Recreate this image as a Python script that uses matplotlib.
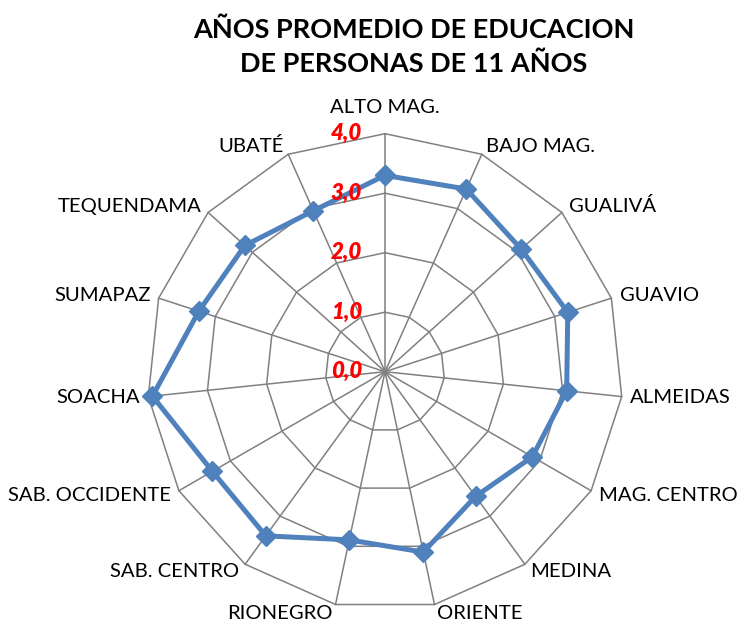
import numpy as np
import matplotlib
matplotlib.use("Agg")
import matplotlib.pyplot as plt
from matplotlib.transforms import offset_copy

# data
provincias = ["ALTO MAG.", "BAJO MAG.", "GUALIVÁ", "GUAVIO", "ALMEIDAS",
              "MAG. CENTRO", "MEDINA", "ORIENTE", "RIONEGRO", "SAB. CENTRO",
              "SAB. OCCIDENTE", "SOACHA", "SUMAPAZ", "TEQUENDAMA", "UBATÉ"]
anios = [3.30, 3.36, 3.08, 3.23, 3.07,
         2.86, 2.59, 3.10, 2.89, 3.41,
         3.35, 3.93, 3.29, 3.17, 2.96]
ticks = [0, 1, 2, 3, 4]
tick_labels = ["0,0", "1,0", "2,0", "3,0", "4,0"]
titulo = "AÑOS PROMEDIO DE EDUCACION\nDE PERSONAS DE 11 AÑOS"

plt.rcParams['font.family'] = ['Lato', 'DejaVu Sans']

W, H = 743, 624
fig = plt.figure(figsize=(W / 100, H / 100), dpi=100)
cx, cy, R = 385, 624 - 371.7, 238
ax = fig.add_axes([(cx - R) / W, (cy - R) / H, 2 * R / W, 2 * R / H], polar=True)
ax.set_theta_zero_location('N')
ax.set_theta_direction(-1)
ax.set_ylim(0, max(ticks))
ax.axis('off')

n = len(provincias)
ang = np.linspace(0, 2 * np.pi, n, endpoint=False)
ang_c = np.append(ang, ang[0])
grid_col = '#808080'

# polygon grid rings
for t in ticks[1:]:
    ax.plot(ang_c, [t] * (n + 1), color=grid_col, lw=1.1, clip_on=False, zorder=1)
# spokes
for a in ang:
    ax.plot([a, a], [0, max(ticks)], color=grid_col, lw=1.1, clip_on=False, zorder=1)

# data series
vals = np.append(anios, anios[0])
ax.plot(ang_c, vals, color='#4F81BD', lw=3.6, marker='D', ms=10,
        mec='#4F81BD', mfc='#4F81BD', clip_on=False, zorder=3)

# radial tick labels
off = offset_copy(ax.transData, fig=fig, x=-23, y=0, units='dots')
for t, lab in zip(ticks, tick_labels):
    ax.text(0, t, lab, transform=off, ha='right', va='center', color='#FF0000',
            fontsize=16, fontweight='heavy', fontstyle='italic', zorder=4)

# category labels
for a, name in zip(ang, provincias):
    s, c = np.sin(a), np.cos(a)
    if abs(s) < 1e-6:
        tr = offset_copy(ax.transData, fig=fig, x=0, y=26, units='dots')
        ha = 'center'
    else:
        tr = offset_copy(ax.transData, fig=fig, x=7 * s + 1.5 * np.sign(s),
                         y=9 * c, units='dots')
        ha = 'left' if s > 0 else 'right'
    ax.text(a, max(ticks), name, transform=tr, ha=ha, va='center',
            fontsize=14.6, color='black')

fig.text(414 / W, 1 - 17 / H, titulo, ha='center', va='top', fontsize=19.5,
         fontweight='bold', linespacing=1.5)

fig.savefig('out.png', dpi=100, facecolor='white')
